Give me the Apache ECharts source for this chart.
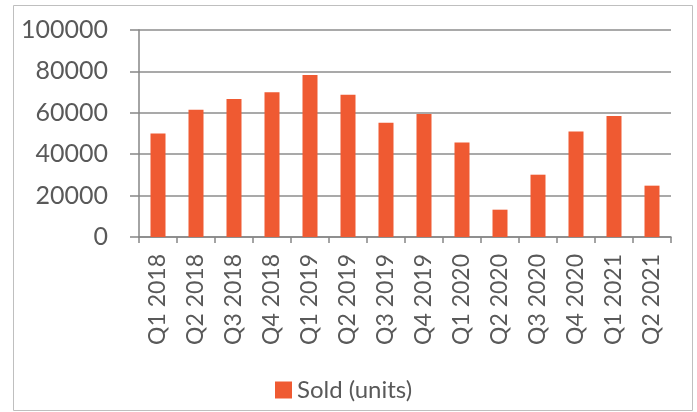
<!DOCTYPE html>
<html><head><meta charset="utf-8">
<script src="https://cdn.jsdelivr.net/npm/echarts@6/dist/echarts.min.js"></script>
<style>html,body{margin:0;padding:0;background:#fff}#c{width:697px;height:412px}</style>
</head><body><div id="c"></div>
<script>
const categories = ["Q1 2018","Q2 2018","Q3 2018","Q4 2018","Q1 2019","Q2 2019","Q3 2019","Q4 2019","Q1 2020","Q2 2020","Q3 2020","Q4 2020","Q1 2021","Q2 2021"];
const soldUnits = [50000,61500,66700,69900,78300,68700,55200,59400,45700,13200,30100,51000,58500,24800];
const yTicks = [0,20000,40000,60000,80000,100000];
const seriesName = "Sold (units)";

const chart = echarts.init(document.getElementById('c'));
const textColor = '#595959';
const font = 'Lato, "Open Sans", sans-serif';
chart.setOption({
  animation: false,
  graphic: [{type:'rect', shape:{x:13.5,y:5.5,width:679,height:405}, style:{fill:'none', stroke:'#BFBFBF', lineWidth:1}}],
  grid: {left:139, right:26, top:30, bottom:175},
  legend: {
    data:[seriesName], top:373, left:270, itemWidth:17, itemHeight:17, itemGap:5,
    icon:'rect',
    textStyle:{color:textColor, fontSize:24, fontFamily:font}
  },
  xAxis: {
    type:'category', data:categories,
    axisLine:{lineStyle:{color:'#868686', width:1.5}},
    axisTick:{show:true, length:6, lineStyle:{color:'#868686', width:1.5}},
    axisLabel:{rotate:90, margin:17, color:textColor, fontSize:23, fontFamily:font, interval:0}
  },
  yAxis: {
    type:'value', min:yTicks[0], max:yTicks[yTicks.length-1], interval:20000,
    axisLine:{show:true, lineStyle:{color:'#868686', width:1.5}},
    axisTick:{show:true, length:9, lineStyle:{color:'#868686', width:1.5}},
    splitLine:{lineStyle:{color:'#8C8C8C', width:1.5}},
    axisLabel:{margin:31, color:textColor, fontSize:25, fontFamily:font, formatter: v => String(v)}
  },
  series: [{
    name:seriesName, type:'bar', data:soldUnits, barWidth:15,
    itemStyle:{color:'#EF5A32'}
  }]
});
</script></body></html>
